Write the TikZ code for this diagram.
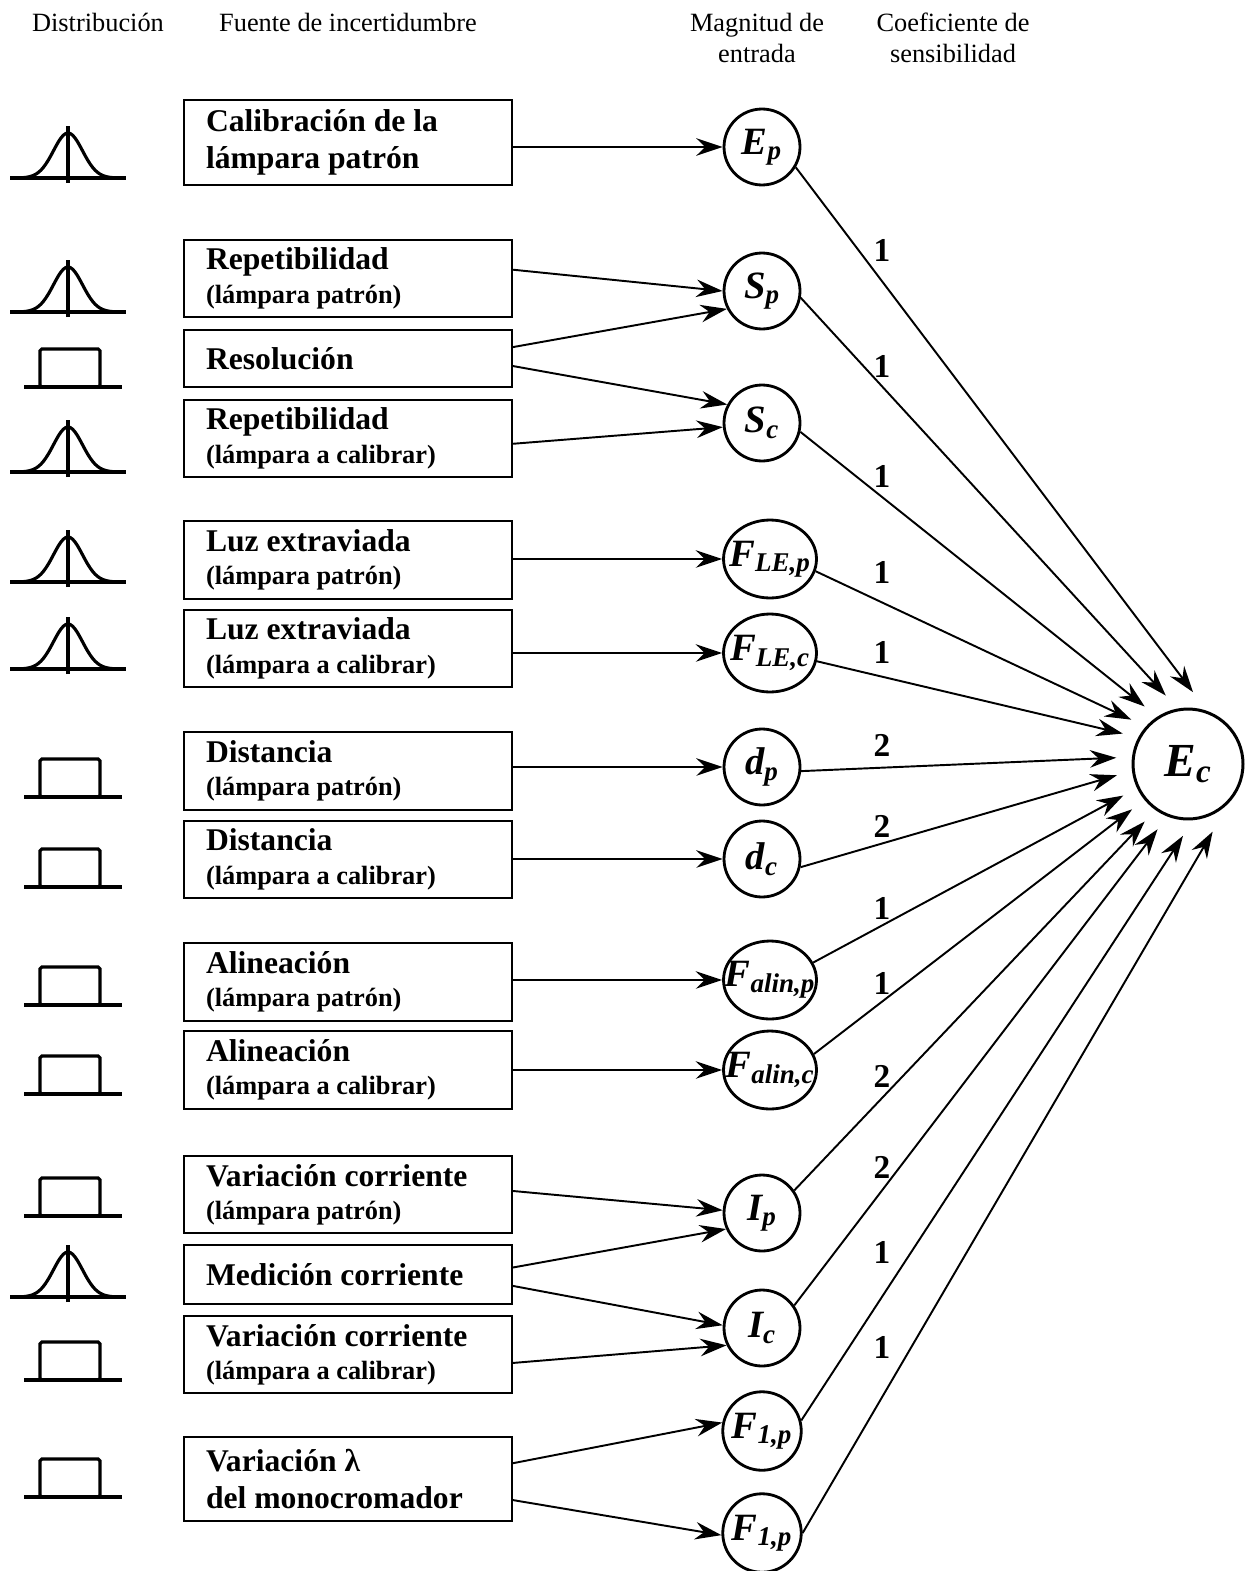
\documentclass[tikz,border=0pt]{standalone}
\usepackage{fontspec}
\setmainfont{Liberation Serif}
\usetikzlibrary{arrows.meta,shapes.geometric,calc}

\newcommand{\mvar}[2]{\textbf{\textit{#1\textsubscript{#2}}}}
\newcommand{\subline}[1]{{\fontsize{15}{18}\selectfont #1}}

\begin{document}
\begin{tikzpicture}[x=0.02cm,y=0.02cm,
      head/.style={font=\fontsize{15}{18}\selectfont,align=center,inner sep=0pt},
      srcbox/.style={draw,line width=1.2pt,text width=5.68cm,inner xsep=0.44cm,
        inner ysep=0pt,minimum height=1.55cm,align=flush left,
        font=\fontsize{18}{21}\selectfont\bfseries},
      var/.style={circle,draw,line width=1.6pt,minimum size=1.52cm,inner sep=0pt,
        font=\fontsize{22}{22}\selectfont},
      evar/.style={var,ellipse,minimum width=1.86cm,minimum height=1.56cm},
      coef/.style={font=\fontsize{19}{19}\selectfont\bfseries,inner sep=0pt},
      arr/.style={-{Stealth[length=15pt,width=10pt,inset=5pt]},line width=1.1pt},
      icon/.style={line width=1.8pt},
      gausspic/.pic={
        \draw[icon] (-58,0) -- (58,0) (0,-5) -- (0,52);
        \draw[icon] plot[domain=-45:45,samples=41,smooth] (\x,{45*exp(-(\x)*(\x)/420)});
      },
      rectpic/.pic={
        \draw[icon] (-46,0) -- (52,0);
        \draw[icon,rounded corners=1pt] (-30,0) rectangle (30,38);
      }]

  \useasboundingbox (0,0) rectangle (1246,-1571);

  % column heads
  \node[head] (h1) at (98,-22) {Distribución};
  \node[head] (h2) at (348,-22) {Fuente de incertidumbre};
  \node[head] (h3) at (757,-38) {Magnitud de\\entrada};
  \node[head] (h4) at (953,-38) {Coeficiente de\\sensibilidad};

  % sources
  \node[srcbox,minimum height=1.7cm] (b1) at (348,-142.5) {Calibración de la\\lámpara patrón};
  \node[srcbox] (b2) at (348,-278.5) {Repetibilidad\\[-2pt]\subline{(lámpara patrón)}};
  \node[srcbox,minimum height=1.14cm] (b3) at (348,-358.5) {Resolución};
  \node[srcbox] (b4) at (348,-438.5) {Repetibilidad\\[-2pt]\subline{(lámpara a calibrar)}};
  \node[srcbox] (b5) at (348,-560) {Luz extraviada\\[-2pt]\subline{(lámpara patrón)}};
  \node[srcbox] (b6) at (348,-648.5) {Luz extraviada\\[-2pt]\subline{(lámpara a calibrar)}};
  \node[srcbox] (b7) at (348,-771) {Distancia\\[-2pt]\subline{(lámpara patrón)}};
  \node[srcbox] (b8) at (348,-859.5) {Distancia\\[-2pt]\subline{(lámpara a calibrar)}};
  \node[srcbox] (b9) at (348,-982) {Alineación\\[-2pt]\subline{(lámpara patrón)}};
  \node[srcbox] (b10) at (348,-1070) {Alineación\\[-2pt]\subline{(lámpara a calibrar)}};
  \node[srcbox] (b11) at (348,-1194.5) {Variación corriente\\[-2pt]\subline{(lámpara patrón)}};
  \node[srcbox,minimum height=1.18cm] (b12) at (348,-1274.5) {Medición corriente};
  \node[srcbox] (b13) at (348,-1354.5) {Variación corriente\\[-2pt]\subline{(lámpara a calibrar)}};
  \node[srcbox,minimum height=1.68cm] (b14) at (348,-1479) {Variación λ\\del monocromador};

  % distributions
  \foreach \yy in {178,312,472,582,669,1297}
    \pic at (68,-\yy) {gausspic};
  \foreach \yy in {387,797,887,1005,1094,1216,1380,1497}
    \pic at (70,-\yy) {rectpic};

  % input quantities
  \node[var] (ep) at (762,-147) {\mvar{E}{p}};
  \node[var] (sp) at (762,-291) {\mvar{S}{p}};
  \node[var] (sc) at (762,-423) {\mvar{S}{c}};
  \node[evar] (flep) at (770,-559) {\makebox[0pt]{\mvar{F}{LE,p}}};
  \node[evar] (flec) at (770,-653) {\makebox[0pt]{\mvar{F}{LE,c}}};
  \node[var] (dp) at (762,-767) {\mvar{d}{p}};
  \node[var] (dc) at (762,-859) {\mvar{d}{c}};
  \node[evar] (falp) at (770,-980) {\makebox[0pt]{\mvar{F}{alin,p}}};
  \node[evar] (falc) at (770,-1070) {\makebox[0pt]{\mvar{F}{alin,c}}};
  \node[var] (ip) at (762,-1213) {\mvar{I}{p}};
  \node[var] (ic) at (762,-1328) {\mvar{I}{c}};
  \node[var,minimum size=1.57cm] (fla) at (762,-1431) {\makebox[0pt]{\mvar{F}{1,p}}};
  \node[var,minimum size=1.57cm] (flb) at (762,-1533) {\makebox[0pt]{\mvar{F}{1,p}}};

  \node[circle,draw,line width=1.7pt,minimum size=2.2cm,inner sep=0pt,
        font=\fontsize{27}{27}\selectfont] (ec) at (1188,-764) {\mvar{E}{c}};

  % sources -> input quantities
  \draw[arr] (b1.east |- ep) -- (ep);
  \draw[arr] ([yshift=5pt]b2.east) -- (sp.180);
  \draw[arr] ([yshift=6.5pt]b3.east) -- (sp.207);
  \draw[arr] ([yshift=-4.3pt]b3.east) -- (sc.152);
  \draw[arr] ([yshift=-3pt]b4.east) -- (sc.186);
  \draw[arr] (b5.east |- flep) -- (flep);
  \draw[arr] (b6.east |- flec) -- (flec);
  \draw[arr] (b7.east |- dp) -- (dp);
  \draw[arr] (b8.east |- dc) -- (dc);
  \draw[arr] (b9.east |- falp) -- (falp);
  \draw[arr] (b10.east |- falc) -- (falc);
  \draw[arr] ([yshift=2pt]b11.east) -- (ip.176);
  \draw[arr] ([yshift=4pt]b12.east) -- (ip.204);
  \draw[arr] ([yshift=-6.5pt]b12.east) -- (ic.176);
  \draw[arr] ([yshift=-4.8pt]b13.east) -- (ic.206);
  \draw[arr] ([yshift=9pt]b14.east) -- (fla.168);
  \draw[arr] ([yshift=-12pt]b14.east) -- (flb.183);

  % input quantities -> output
  \foreach \a [count=\i] in {86,108,127,142,155,175,189,206,219,233,245,266,290}
    \coordinate (t\i) at ($(ec)+(\a:72)$);
  \foreach \s/\sa [count=\i] in {ep/-31,sp/-10,sc/-13,flep/-15,flec/-10,dp/-6,dc/-12,
      falp/22,falc/20,ip/35,ic/35,fla/15,flb/0}
    \draw[arr] (\s.\sa) -- (t\i);

  % sensitivity coefficients
  \foreach \k/\yy [count=\i] in {1/250,1/366,1/476,1/572,1/652,2/745,2/826,
      1/908,1/983,2/1076,2/1167,1/1252,1/1347}
    \node[coef] (k\i) at (882,-\yy) {\k};
\end{tikzpicture}
\end{document}
